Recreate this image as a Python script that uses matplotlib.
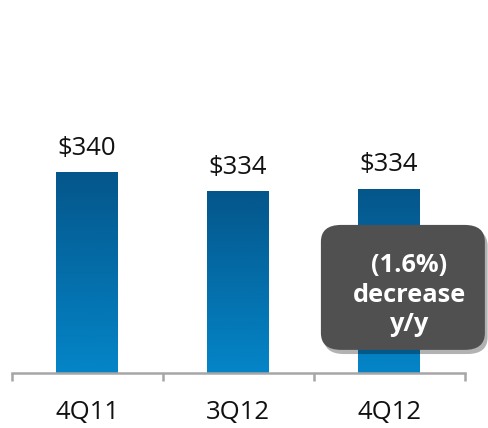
import numpy as np
import matplotlib.pyplot as plt
from matplotlib.patches import FancyBboxPatch
import matplotlib.patheffects as pe
from matplotlib.colors import LinearSegmentedColormap

# Data
quarters = ['4Q11', '3Q12', '4Q12']
values = [340.0, 333.6, 334.4]
value_labels = ['$340', '$334', '$334']
callout = '(1.6%)\ndecrease\ny/y'

plt.rcParams['font.family'] = ['Open Sans', 'DejaVu Sans']

fig = plt.figure(figsize=(4.88, 4.28), dpi=100)
ax = fig.add_axes([11.5 / 488, 55 / 428, 453 / 488, 373 / 428])
ax.set_xlim(-0.5, 2.5)
ax.set_ylim(272.3, 397.9)

bar_w = 0.41
cmap = LinearSegmentedColormap.from_list('blu', ['#0485c8', '#04568a'])
grad = np.linspace(0, 1, 256).reshape(-1, 1)
ybot = ax.get_ylim()[0]

for i, (v, lab) in enumerate(zip(values, value_labels)):
    bar = ax.bar(i, v - ybot, bottom=ybot, width=bar_w, color='none', edgecolor='none')[0]
    im = ax.imshow(grad, cmap=cmap, aspect='auto', origin='lower',
                   extent=[i - bar_w / 2, i + bar_w / 2, ybot, v], zorder=2)
    im.set_clip_path(bar)
    ax.annotate(lab, (i, v), xytext=(0, 8), textcoords='offset points',
                ha='center', va='bottom', fontsize=18.5, color='#111111')

ax.set_xlim(-0.5, 2.5)
ax.set_ylim(272.3, 397.9)

# axis styling
for s in ['top', 'right', 'left']:
    ax.spines[s].set_visible(False)
ax.spines['bottom'].set_color('#a6a6a6')
ax.spines['bottom'].set_linewidth(1.8)
ax.set_yticks([])
ax.set_xticks(range(len(quarters)))
ax.set_xticklabels(quarters, fontsize=18.5, color='#111111')
ax.tick_params(axis='x', which='major', length=0, pad=19.5)
ax.set_xticks([-0.5, 0.5, 1.5, 2.5], minor=True)
ax.tick_params(axis='x', which='minor', length=6, width=1.8, color='#a6a6a6', direction='out')

# callout box
box = FancyBboxPatch((0.683, 0.062), 0.362, 0.335, transform=ax.transAxes,
                     boxstyle='round,pad=0,rounding_size=0.045', mutation_aspect=1,
                     facecolor='#505050', edgecolor='none', zorder=5, clip_on=False,
                     path_effects=[pe.SimplePatchShadow(offset=(2, -3), shadow_rgbFace='#000000', alpha=0.3),
                                   pe.Normal()])
ax.add_patch(box)
ax.text(0.878, 0.209, callout, transform=ax.transAxes, ha='center', va='center',
        fontsize=18.3, fontweight='bold', color='white', linespacing=1.25, zorder=6)

fig.savefig('out.png', dpi=100)
